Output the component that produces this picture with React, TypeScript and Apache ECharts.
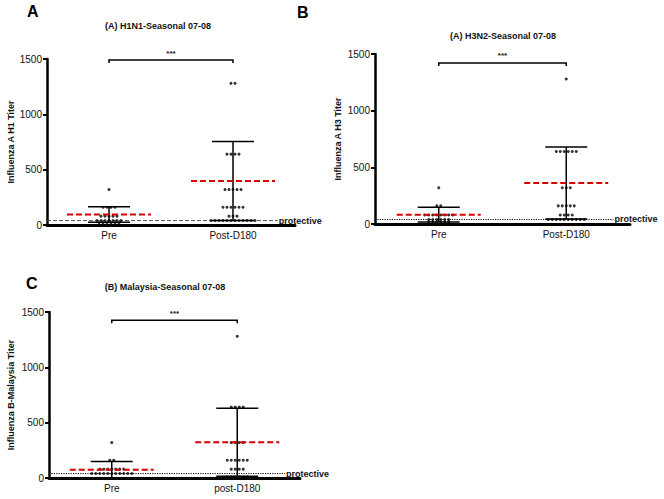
import React, { useEffect, useRef } from "react";
import * as echarts from "echarts";

// ---- data ----
const CATS_AB = ["Pre", "Post-D180"];
const CATS_C = ["Pre", "post-D180"];
const Y_TICKS = [0, 500, 1000, 1500];
const PROTECTIVE = 40;
const SIGNIF = "***";

const TITLES = ["(A) H1N1-Seasonal 07-08", "(A) H3N2-Seasonal 07-08", "(B) Malaysia-Seasonal 07-08"];
const LETTERS = ["A", "B", "C"];
const Y_NAMES = ["Influenza A H1 Titer", "Influenza A H3 Titer", "Influenza B-Malaysia Titer"];

// panel A (H1N1)
const aPre = [320, 160, 160, 160, 160, 80, 80, 80, 80, 80, 40, 40, 40, 40, 40, 40, 40, 20, 20, 20, 20, 20, 20];
const aPost = [1280, 1280, 640, 640, 640, 640, 320, 320, 320, 320, 320, 160, 160, 160, 160, 160, 160, 80, 80, 80,
  40, 40, 40, 40, 40, 40, 40, 40, 40, 40, 40, 40];
const aMean = [95, 398];
const aUpper = [165, 755];
const aLower = [25, 40];
const aBracket = 1490;

// panel B (H3N2)
const bPre = [320, 160, 160, 80, 80, 80, 80, 80, 80, 80, 80, 40, 40, 40, 40, 40, 40, 20, 20, 20, 20, 20, 20];
const bPost = [1280, 640, 640, 640, 640, 640, 640, 320, 320, 320, 160, 160, 160, 160, 160, 80, 80, 80, 80,
  40, 40, 40, 40, 40, 40, 40, 40, 40, 40];
const bMean = [82, 362];
const bUpper = [148, 680];
const bLower = [17, 45];
const bBracket = 1421;

// panel C (B-Malaysia)
const cPre = [320, 160, 160, 80, 80, 80, 80, 80, 80, 80, 40, 40, 40, 40, 40, 40, 40, 40, 40, 40, 40];
const cPost = [1280, 640, 640, 640, 640, 320, 320, 320, 320, 160, 160, 160, 160, 160, 160, 80, 80, 80, 80,
  10, 10, 10, 10, 10, 10];
const cMean = [75, 322];
const cUpper = [150, 630];
const cLower = [0, 15];
const cBracket = 1425;

// ---- layout ----
const GRIDS = [
  { left: 47, top: 59, width: 248, height: 166 },
  { left: 375, top: 54, width: 255, height: 170 },
  { left: 49, top: 312, width: 251, height: 166 },
];
const NAME_GAPS = [29, 33, 34];
const PROT_END = [1.86, 1.87, 1.88];
const TITLE_POS = [[158, 26], [503, 36], [165, 287]];
const LETTER_POS = [[27, 3], [297, 4], [26, 275]];
const DOT_PX = 4;

function rowDots(values: number[], center: number, step: number) {
  const groups = new Map<number, number>();
  values.forEach((v) => groups.set(v, (groups.get(v) || 0) + 1));
  const out: number[][] = [];
  groups.forEach((n, v) => {
    for (let k = 0; k < n; k++) out.push([center + (k - (n - 1) / 2) * step, v]);
  });
  return out;
}

const PANELS = [
  { pre: aPre, post: aPost, mean: aMean, upper: aUpper, lower: aLower, bracket: aBracket, cats: CATS_AB, dashed: true },
  { pre: bPre, post: bPost, mean: bMean, upper: bUpper, lower: bLower, bracket: bBracket, cats: CATS_AB, dashed: false },
  { pre: cPre, post: cPost, mean: cMean, upper: cUpper, lower: cLower, bracket: cBracket, cats: CATS_C, dashed: false },
];

const FONT = "Liberation Sans, Arial, sans-serif";

export default function App() {
  const ref = useRef<HTMLDivElement>(null);
  useEffect(() => {
    if (!ref.current) return;
    const chart = echarts.init(ref.current, undefined, { renderer: "svg" });
    const xAxis: any[] = [];
    const yAxis: any[] = [];
    const series: any[] = [];
    const graphic: any[] = [];
    PANELS.forEach((p, i) => {
      const g = GRIDS[i];
      const step = DOT_PX / (g.width / 2);
      xAxis.push({
        type: "category",
        gridIndex: i,
        data: p.cats,
        axisLine: { lineStyle: { color: "#000", width: 3 } },
        axisTick: { alignWithLabel: true, length: 3, lineStyle: { color: "#000", width: 2 } },
        axisLabel: { color: "#111", fontSize: 10, fontFamily: FONT, margin: 5 },
        splitLine: { show: false },
      });
      xAxis.push({ type: "value", gridIndex: i, min: 0, max: 2, show: false, splitLine: { show: false } });
      yAxis.push({
        type: "value",
        gridIndex: i,
        min: Y_TICKS[0],
        max: Y_TICKS[Y_TICKS.length - 1],
        interval: Y_TICKS[1] - Y_TICKS[0],
        name: Y_NAMES[i],
        nameLocation: "middle",
        nameGap: NAME_GAPS[i],
        nameTextStyle: { color: "#111", fontSize: 9, fontWeight: "bold", fontFamily: FONT },
        axisLine: { show: true, lineStyle: { color: "#000", width: 2.5 } },
        axisTick: { show: true, length: 4, lineStyle: { color: "#000", width: 2 } },
        axisLabel: { color: "#111", fontSize: 10, fontFamily: FONT, margin: 5, formatter: (v: number) => String(v) },
        splitLine: { show: false },
      });
      const xi = i * 2 + 1;
      series.push({
        type: "scatter",
        xAxisIndex: xi,
        yAxisIndex: i,
        symbol: "circle",
        symbolSize: 3,
        itemStyle: { color: "#000" },
        data: [...rowDots(p.pre, 0.5, step), ...rowDots(p.post, 1.5, step)],
        z: 2,
      });
      series.push({
        type: "custom",
        xAxisIndex: xi,
        yAxisIndex: i,
        clip: false,
        z: 3,
        data: [
          [0.5, p.mean[0], p.lower[0], p.upper[0]],
          [1.5, p.mean[1], p.lower[1], p.upper[1]],
        ],
        renderItem: (_params: any, api: any) => {
          const x = api.value(0);
          const top = api.coord([x, api.value(3)]);
          const bot = api.coord([x, api.value(2)]);
          const mid = api.coord([x, api.value(1)]);
          const ls = { stroke: "#000", lineWidth: 1.5 };
          return {
            type: "group",
            children: [
              { type: "line", shape: { x1: top[0], y1: top[1], x2: bot[0], y2: bot[1] }, style: ls },
              { type: "line", shape: { x1: top[0] - 21, y1: top[1], x2: top[0] + 21, y2: top[1] }, style: ls },
              { type: "line", shape: { x1: bot[0] - 21, y1: bot[1], x2: bot[0] + 21, y2: bot[1] }, style: ls },
              {
                type: "line",
                shape: { x1: mid[0] - 42, y1: mid[1], x2: mid[0] + 42, y2: mid[1] },
                style: { stroke: "#d40000", lineWidth: 2, lineDash: [6, 3] },
              },
            ],
          };
        },
      });
      series.push({
        type: "custom",
        xAxisIndex: xi,
        yAxisIndex: i,
        clip: false,
        z: 1,
        data: [[0, PROTECTIVE, PROT_END[i]]],
        renderItem: (_params: any, api: any) => {
          const a = api.coord([api.value(0), api.value(1)]);
          const b = api.coord([api.value(2), api.value(1)]);
          return {
            type: "group",
            children: [
              {
                type: "line",
                shape: { x1: a[0], y1: a[1], x2: b[0], y2: b[1] },
                style: p.dashed
                  ? { stroke: "#555", lineWidth: 1, lineDash: [4, 2] }
                  : { stroke: "#000", lineWidth: 1, lineDash: [1.2, 1.2] },
              },
              {
                type: "text",
                x: b[0] + 1,
                y: b[1],
                style: { text: "protective", fill: "#111", font: `bold 9px ${FONT}`, align: "left", verticalAlign: "middle" },
              },
            ],
          };
        },
      });
      series.push({
        type: "custom",
        xAxisIndex: xi,
        yAxisIndex: i,
        clip: false,
        z: 3,
        data: [[0.5, 1.5, p.bracket]],
        renderItem: (_params: any, api: any) => {
          const a = api.coord([api.value(0), api.value(2)]);
          const b = api.coord([api.value(1), api.value(2)]);
          const ls = { stroke: "#000", lineWidth: 1.5, fill: "none" };
          return {
            type: "group",
            children: [
              {
                type: "polyline",
                shape: { points: [[a[0], a[1] + 3], [a[0], a[1]], [b[0], b[1]], [b[0], b[1] + 3]] },
                style: ls,
              },
              {
                type: "text",
                x: (a[0] + b[0]) / 2,
                y: a[1] - 7,
                style: { text: SIGNIF, fill: "#111", font: `bold 8px ${FONT}`, align: "center", verticalAlign: "middle" },
              },
            ],
          };
        },
      });
      graphic.push({
        type: "text",
        x: TITLE_POS[i][0],
        y: TITLE_POS[i][1],
        style: { text: TITLES[i], fill: "#111", font: `bold 9px ${FONT}`, align: "center", verticalAlign: "middle" },
      });
      graphic.push({
        type: "text",
        x: LETTER_POS[i][0],
        y: LETTER_POS[i][1],
        style: { text: LETTERS[i], fill: "#000", font: `bold 16px ${FONT}`, align: "left", verticalAlign: "top" },
      });
    });
    chart.setOption({
      animation: false,
      backgroundColor: "#fff",
      grid: GRIDS,
      xAxis,
      yAxis,
      series,
      graphic,
    });
    return () => chart.dispose();
  }, []);
  return <div ref={ref} style={{ position: "fixed", left: 0, top: 0, width: 664, height: 499 }} />;
}
